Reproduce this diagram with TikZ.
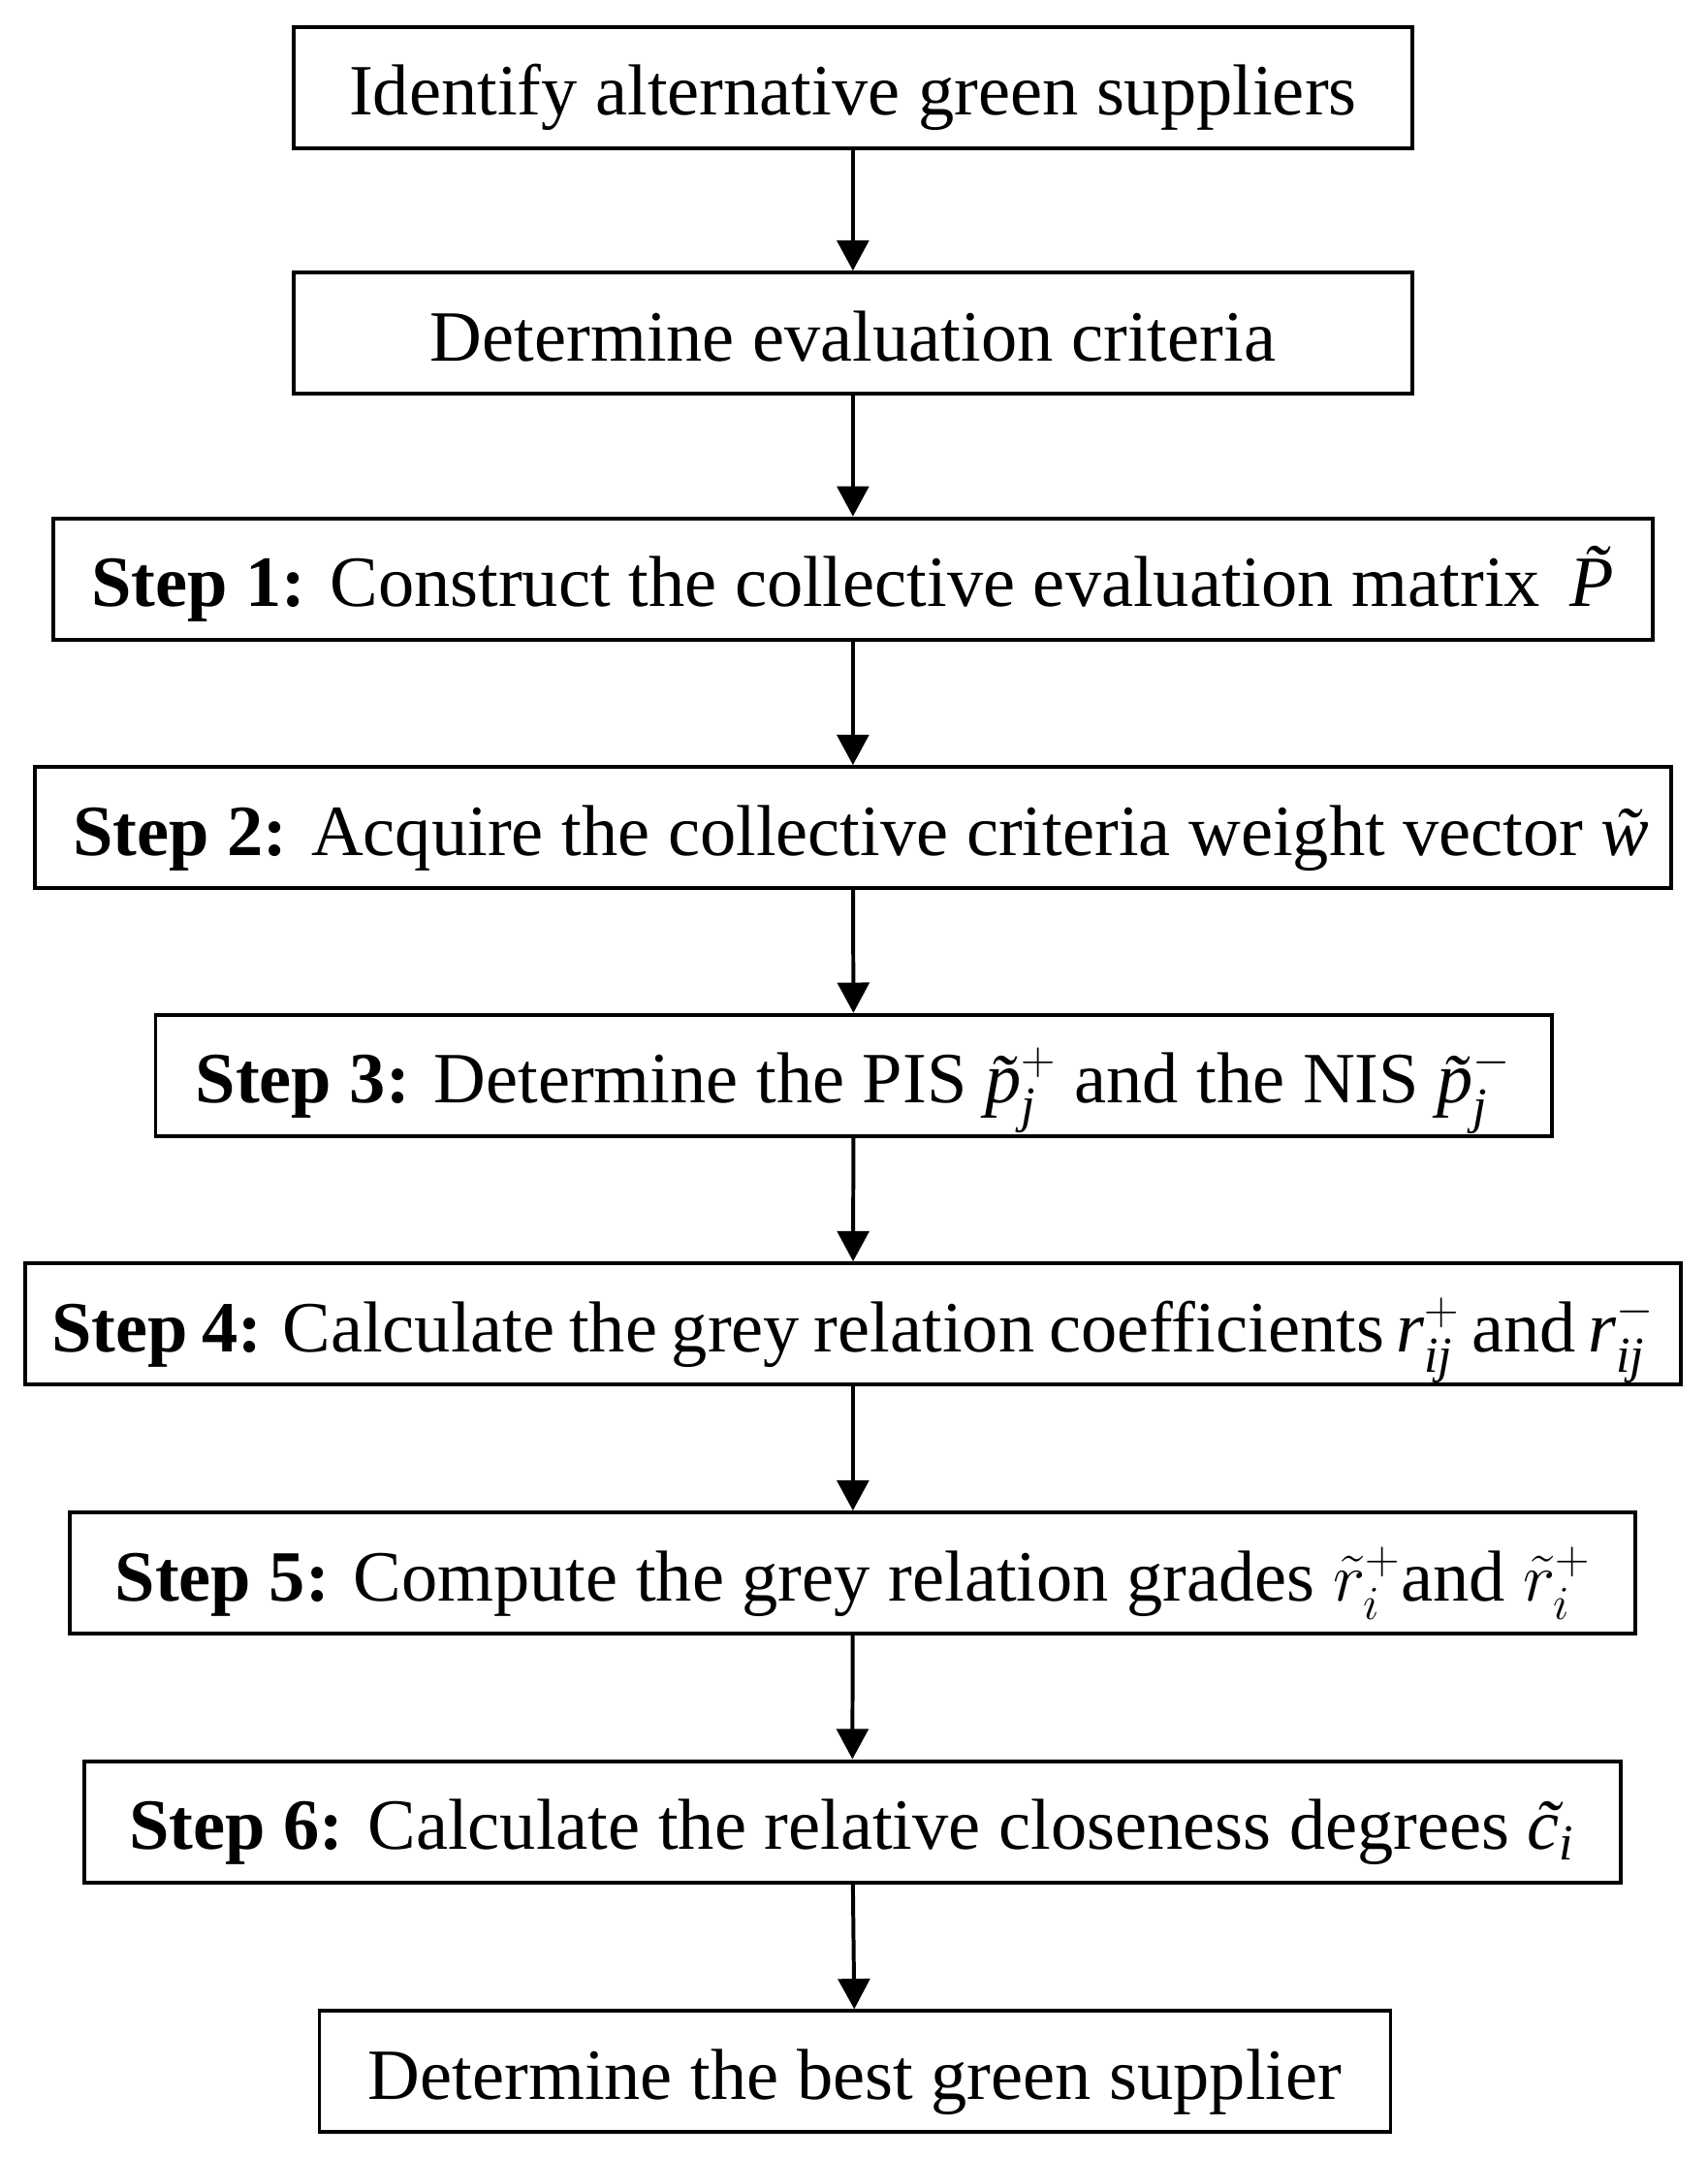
\documentclass[tikz,border=0pt]{standalone}
\usepackage{amsmath}
\usepackage{fontspec}
\setmainfont{Liberation Serif}
\usetikzlibrary{arrows.meta}
\newcommand{\mv}[1]{\text{\itshape #1}}

\begin{document}
\begin{tikzpicture}[x=0.5pt, y=-0.5pt,
		stepbox/.style={draw, line width=1.4pt, minimum height=44pt, inner xsep=0pt, text height=25pt, text depth=5pt, font=\fontsize{26.2}{30}\selectfont},
		flow/.style={line width=1.4pt, -{Triangle[length=11pt,width=11.5pt]}}]
			%%%%% START %%%%%
			
			\useasboundingbox (0, 0) rectangle (1240, 1568);
			
			\node[stepbox, minimum width=406pt] (ident) at (619.5, 63.5) {Identify alternative green suppliers};
			\node[stepbox, minimum width=406pt] (crit) at (619.5, 242) {Determine evaluation criteria};
			
			\node[stepbox, minimum width=581pt] (s1) at (619.5, 420.5) {\textbf{Step 1:} Construct the collective evaluation matrix\, $\mv{\~{P}}$};
			\node[stepbox, minimum width=594pt] (s2) at (619.5, 601) {\hspace{6pt}\textbf{Step 2:} Acquire the collective criteria weight vector $\mv{\~{w}}$};
			\node[stepbox, minimum width=507pt] (s3) at (620, 781) {\textbf{Step 3:} Determine the PIS $\mv{\~{p}}_{\mv{j}}^{+}$ and the NIS $\mv{\~{p}}_{\mv{j}}^{-}$};
			\node[stepbox, minimum width=601.5pt] (s4) at (619.5, 961.5) {\spaceskip=5.2pt\textbf{Step 4:} Calculate the grey relation coefficients\,$\mv{r}_{\mv{ij}}^{+}$\,and\,$\mv{r}_{\mv{ij}}^{-}$};
			\node[stepbox, minimum width=568.5pt] (s5) at (619.5, 1142.5) {\textbf{Step 5:} Compute the grey relation grades $\tilde{r}_i^{+}$and $\tilde{r}_i^{+}$};
			\node[stepbox, minimum width=558pt] (s6) at (619, 1323) {\textbf{Step 6:} Calculate the relative closeness degrees $\mv{\~{c}}_{\mv{i}}$};
			
			\node[stepbox, minimum width=389pt] (best) at (621, 1504.5) {Determine the best green supplier};
			
			\draw[flow] (ident) -- (crit);
			\draw[flow] (crit) -- (s1);
			\draw[flow] (s1) -- (s2);
			\draw[flow] (s2) -- (s3);
			\draw[flow] (s3) -- (s4);
			\draw[flow] (s4) -- (s5);
			\draw[flow] (s5) -- (s6);
			\draw[flow] (s6) -- (best);
			
			%%%%% END %%%%%
		\end{tikzpicture}
\end{document}
